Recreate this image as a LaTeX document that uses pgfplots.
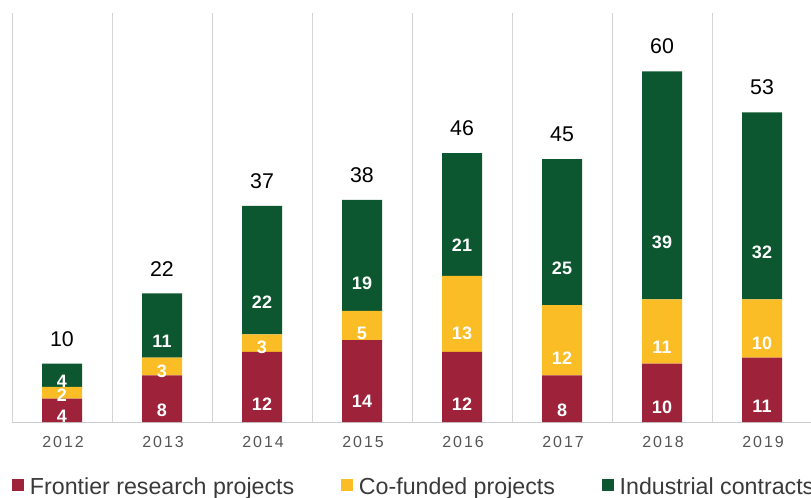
\documentclass[border=0pt]{standalone}
\usepackage{pgfplots}
\pgfplotsset{compat=1.18}
\usepackage{pgfplotstable}
\usepackage{fontspec}
\setmainfont{Liberation Sans}
\definecolor{cred}{HTML}{9E233A}
\definecolor{cyel}{HTML}{FBBD26}
\definecolor{cgrn}{HTML}{0D5730}
\definecolor{cgrid}{HTML}{D4D4D4}
\definecolor{caxis}{HTML}{CCCCCC}
\definecolor{ctick}{HTML}{555555}
\definecolor{cleg}{HTML}{3A3A3A}
\pgfplotsset{sqlegend/.style={legend image code/.code={\fill[##1] (0pt,-3.3pt) rectangle (9pt,5.7pt);}}}
\pgfplotstableread{
x f c i t
0 4 2 4 10
1 8 3 11 22
2 12 3 22 37
3 14 5 19 38
4 12 13 21 46
5 8 12 25 45
6 10 11 39 60
7 11 10 32 53
}\data
\begin{document}
\begin{tikzpicture}
\useasboundingbox (0,0) rectangle (608.25pt,372.75pt);
\begin{axis}[
  at={(9pt,56.25pt)}, anchor=south west,
  scale only axis, width=600pt, height=306.75pt,
  xmin=-0.5, xmax=7.5, ymin=0, ymax=70,
  ybar stacked, bar width=0.4,
  axis x line*=bottom, axis y line=none,
  x axis line style={-, color=caxis, line width=0.75pt},
  ytick=\empty,
  xtick={0,...,7},
  xticklabels={2012,2013,2014,2015,2016,2017,2018,2019},
  major tick length=0pt, minor tick length=0pt,
  minor xtick={-0.5,0.5,...,7.5},
  xminorgrids, minor grid style={color=cgrid, line width=0.75pt},
  xticklabel style={font=\fontsize{12}{12}\selectfont\addfontfeatures{LetterSpace=12}, text=ctick, inner sep=0pt, anchor=north, yshift=-10.5pt, xshift=0.8pt},
  legend columns=3,
  legend style={at={(0,-0.159)}, anchor=west, draw=none, fill=none, inner sep=0pt, outer sep=0pt,
    font=\fontsize{17.4}{17.4}\selectfont, text=cleg,
    nodes={inner sep=0pt},
    /tikz/every odd column/.append style={column sep=4.5pt},
    /tikz/every even column/.append style={column sep=35pt}},
  point meta=explicit,
  visualization depends on={rawy \as \vv},
  nodes near coords={\pgfmathprintnumber[assume math mode=true]{\pgfplotspointmeta}},
  every node near coord/.append style={font=\fontsize{13.5}{13.5}\selectfont\bfseries, text=white, anchor=center, inner sep=0pt, yshift=-\vv*1.0955355pt},
]
\addplot[fill=cred, draw=none, sqlegend] table[x=x, y=f, meta=f]{\data};
\addlegendentry{Frontier research projects}
\addplot[fill=cyel, draw=none, sqlegend] table[x=x, y=c, meta=c]{\data};
\addlegendentry{Co-funded projects}
\addplot[fill=cgrn, draw=none, sqlegend] table[x=x, y=i, meta=i]{\data};
\addlegendentry{Industrial contracts}
\end{axis}
\begin{axis}[
  at={(9pt,56.25pt)}, anchor=south west,
  scale only axis, width=600pt, height=306.75pt,
  xmin=-0.5, xmax=7.5, ymin=0, ymax=70,
  hide axis,
  ybar, bar width=0,
  point meta=explicit,
  nodes near coords={\pgfmathprintnumber[assume math mode=true]{\pgfplotspointmeta}},
  every node near coord/.append style={font=\fontsize{16}{16}\selectfont, text=black, anchor=south, inner sep=0pt, yshift=12.8pt},
]
\addplot[draw=none, fill=none] table[x=x, y=t, meta=t]{\data};
\end{axis}
\end{tikzpicture}
\end{document}
